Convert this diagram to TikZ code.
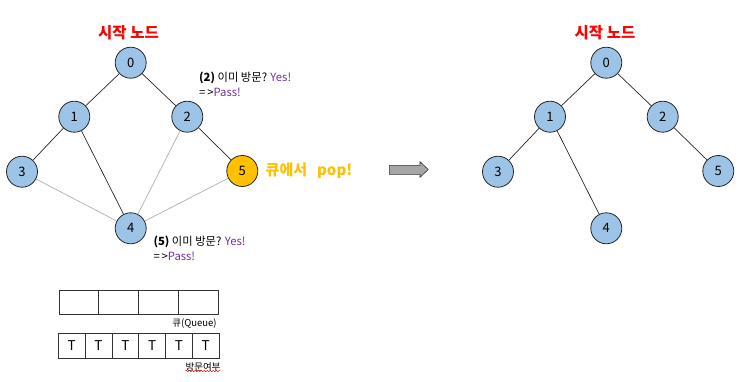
\documentclass[tikz,border=0pt]{standalone}
\usepackage{fontspec}
\setmainfont{Noto Sans CJK KR}
\usetikzlibrary{decorations.pathmorphing}
\definecolor{nodeblue}{RGB}{157,195,230}
\definecolor{popyellow}{RGB}{255,192,0}
\definecolor{yespurple}{RGB}{112,48,160}
\definecolor{edgegray}{RGB}{175,175,175}
\tikzset{
  vnode/.style={circle,draw=black!85,line width=0.8pt,fill=nodeblue,minimum size=31pt,inner sep=0pt,font=\fontsize{13}{14}\selectfont},
  tedge/.style={draw=black!85,line width=0.7pt},
  gedge/.style={draw=edgegray,line width=0.7pt},
  title/.style={text=red,font=\fontsize{15.5}{16}\selectfont\bfseries},
  note/.style={anchor=west,font=\fontsize{11.3}{12}\selectfont,inner sep=0pt},
  cell/.style={draw=black!80,line width=0.7pt,minimum height=24pt,inner sep=0pt,font=\fontsize{13.5}{14}\selectfont},
  small/.style={font=\fontsize{9.5}{10}\selectfont,inner sep=0pt}
}
\begin{document}
\begin{tikzpicture}[x=1pt,y=-1pt]
\useasboundingbox (0,0) rectangle (748,381);
% left graph
\node[title] (t1) at (128.5,33) {시작 노드};
\node[vnode] (a0) at (130.7,62.7) {0};
\node[vnode] (a1) at (74.3,116.7) {1};
\node[vnode] (a2) at (187.3,116.7) {2};
\node[vnode] (a3) at (22,171.7) {3};
\node[vnode,fill=popyellow] (a5) at (242.3,171) {5};
\node[vnode] (a4) at (130.7,228.3) {4};
\path[tedge] (a0) -- (a1);
\path[tedge] (a0) -- (a2);
\path[tedge] (a1) -- (a3);
\path[tedge] (a1) -- (a4);
\path[tedge] (a2) -- (a5);
\path[gedge] (a3) -- (a4);
\path[gedge] (a2) -- (a4);
\path[gedge] (a5) -- (a4);
\node[note] (n2a) at (199,77.5) {\textbf{(2)} 이미 방문? \textcolor{yespurple}{Yes!}};
\node[note] (n2b) at (199,92) {=\,>\textcolor{yespurple}{Pass!}};
\node[anchor=west,inner sep=0pt,text=popyellow,font=\fontsize{15}{16}\selectfont\bfseries] (pop) at (265.5,171) {큐에서\hspace{10pt}pop!};
\node[note] (n5a) at (153.3,241.7) {\textbf{(5)} 이미 방문? \textcolor{yespurple}{Yes!}};
\node[note] (n5b) at (153.3,256) {=\,>\textcolor{yespurple}{Pass!}};
% queue
\foreach \i in {0,1,2,3} {
  \node[cell,minimum width=39.8pt] (q\i) at ({59+19.9+39.8*\i},302) {};
}
\node[small] (ql) at (194.5,323.3) {큐(Queue)};
\foreach \i in {0,...,5} {
  \node[cell,minimum width=26.8pt,minimum height=25pt] (v\i) at ({58.3+13.4+26.8*\i},345.8) {T};
}
\node[small] (vl) at (203,367) {방문여부};
\draw[red,line width=0.4pt,decorate,decoration={snake,amplitude=0.7pt,segment length=3pt}] ([yshift=0.5pt]vl.south west) -- ([yshift=0.5pt]vl.south east);
% arrow
\coordinate (arrtip) at (428.3,169.5);
\draw[draw=black!80,fill=black!35,line width=0.6pt]
  (389.3,165.3) -- (420,165.3) -- (420,161.7) -- (arrtip) -- (420,177.3) -- (420,174.3) -- (389.3,174.3) -- cycle;
% right tree
\node[title] (t2) at (605,33) {시작 노드};
\node[vnode] (b0) at (606.3,62.7) {0};
\node[vnode] (b1) at (550,116.7) {1};
\node[vnode] (b2) at (662.7,116.7) {2};
\node[vnode] (b3) at (498,171.7) {3};
\node[vnode] (b5) at (718.3,171) {5};
\node[vnode] (b4) at (606.3,228.3) {4};
\path[tedge] (b0) -- (b1);
\path[tedge] (b0) -- (b2);
\path[tedge] (b1) -- (b3);
\path[tedge] (b1) -- (b4);
\path[tedge] (b2) -- (b5);
\end{tikzpicture}
\end{document}
